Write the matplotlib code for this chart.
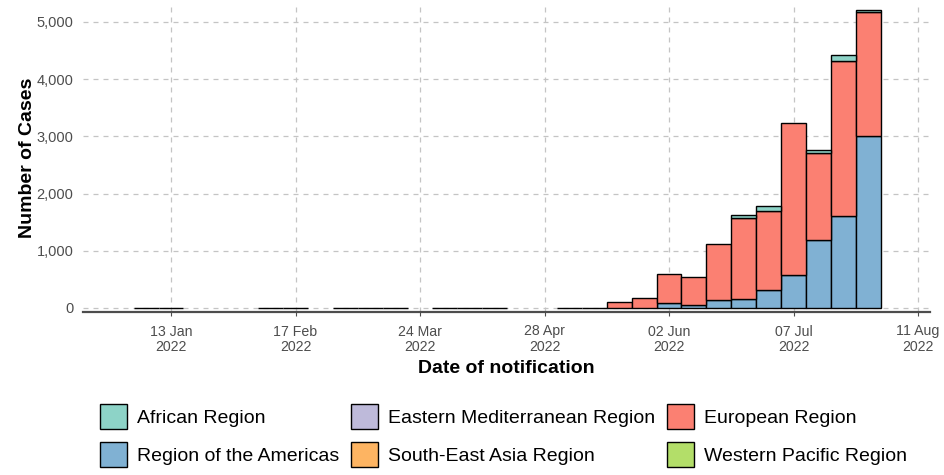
import numpy as np
import pandas as pd
import matplotlib
matplotlib.use("Agg")
import matplotlib.pyplot as plt
import matplotlib.dates as mdates
from matplotlib.patches import Patch
from matplotlib.ticker import FuncFormatter

plt.rcParams["font.family"] = ["Liberation Sans", "DejaVu Sans"]

# Data entry (weekly counts, bars centred on the week date)
weeks = ["2022-01-06", "2022-01-13", "2022-02-10", "2022-02-17", "2022-03-03",
         "2022-03-10", "2022-03-17", "2022-03-31", "2022-04-07", "2022-04-14",
         "2022-05-05", "2022-05-12", "2022-05-19", "2022-05-26", "2022-06-02",
         "2022-06-09", "2022-06-16", "2022-06-23", "2022-06-30", "2022-07-07",
         "2022-07-14", "2022-07-21", "2022-07-28"]

regions = ["African Region", "Region of the Americas", "Eastern Mediterranean Region",
           "South-East Asia Region", "European Region", "Western Pacific Region"]

african = [2, 1, 1, 2, 1, 2, 1, 1, 2, 1, 1, 2, 0, 0, 0, 0, 0, 40, 88, 0, 45, 105, 24]
americas = [0, 0, 0, 0, 0, 0, 0, 0, 0, 0, 0, 0, 0, 0, 93, 52, 134, 152, 309, 571, 1194, 1610, 3009]
eastern_med = [0] * 23
se_asia = [0] * 23
european = [0, 0, 0, 0, 0, 0, 0, 0, 0, 0, 0, 0, 111, 175, 498, 481, 985, 1427, 1381, 2656, 1517, 2713, 2171]
western_pac = [0] * 23

colors = {
    "African Region": "#8DD3C7",
    "Eastern Mediterranean Region": "#BEBADA",
    "European Region": "#FB8072",
    "Region of the Americas": "#80B1D3",
    "South-East Asia Region": "#FDB462",
    "Western Pacific Region": "#B3DE69",
}

df = pd.DataFrame({
    "Region of the Americas": americas,
    "European Region": european,
    "African Region": african,
    "Eastern Mediterranean Region": eastern_med,
    "South-East Asia Region": se_asia,
    "Western Pacific Region": western_pac,
}, index=pd.to_datetime(weeks))

# Building of the plot
fig = plt.figure(figsize=(9.45, 4.75), dpi=100)
ax = fig.add_axes([83 / 945, 1 - 312 / 475, (930 - 83) / 945, (312 - 3) / 475])

grid_kw = dict(color="#C4C4C4", linestyle=(0, (4, 4)), linewidth=0.9, zorder=0)
ticks = pd.date_range("2022-01-13", "2022-08-11", freq="35D")
for t in ticks:
    ax.axvline(t, **grid_kw)
for y in range(0, 6000, 1000):
    ax.axhline(y, **grid_kw)

# Stacked bars, skipping empty segments as ggplot does
bottom = np.zeros(len(df))
for reg in df.columns:
    vals = df[reg].values
    mask = vals > 0
    ax.bar(df.index[mask], vals[mask], bottom=bottom[mask], width=7,
           color=colors[reg], edgecolor="black", linewidth=1.0, zorder=2)
    bottom += vals

ax.set_xlim(pd.Timestamp("2021-12-19 06:00"), pd.Timestamp("2022-08-14 09:00"))
ax.set_ylim(-70, 5330)
ax.set_xticks(ticks)
ax.xaxis.set_major_formatter(mdates.DateFormatter("%d %b\n%Y"))
ax.set_yticks(range(0, 6000, 1000))
ax.yaxis.set_major_formatter(FuncFormatter(lambda v, p: f"{int(v):,}"))

for s in ["top", "right", "left"]:
    ax.spines[s].set_visible(False)
ax.spines["bottom"].set_color("#4D4D4D")
ax.spines["bottom"].set_linewidth(1.6)

ax.tick_params(axis="x", colors="#4D4D4D", labelsize=10.2, length=3, width=0.8, pad=6)
ax.tick_params(axis="y", colors="#4D4D4D", labelsize=10.5, length=0, pad=7)
for lbl in ax.get_xticklabels():
    lbl.set_linespacing(1.15)

ax.set_xlabel("Date of notification", fontsize=14, fontweight="bold", labelpad=4)
ax.set_ylabel("Number of Cases", fontsize=14, fontweight="bold", labelpad=0)

handles = [Patch(facecolor=colors[r], edgecolor="black", linewidth=1.0, label=r) for r in regions]
fig.legend(handles=handles, ncol=3, loc="upper left",
           bbox_to_anchor=(100 / 945, 1 - 404 / 475), frameon=False,
           fontsize=14, handlelength=1.4, handleheight=1.6, handletextpad=0.5,
           columnspacing=0.6, labelspacing=0.68, borderpad=0, borderaxespad=0)

fig.savefig("out.png", dpi=100)
